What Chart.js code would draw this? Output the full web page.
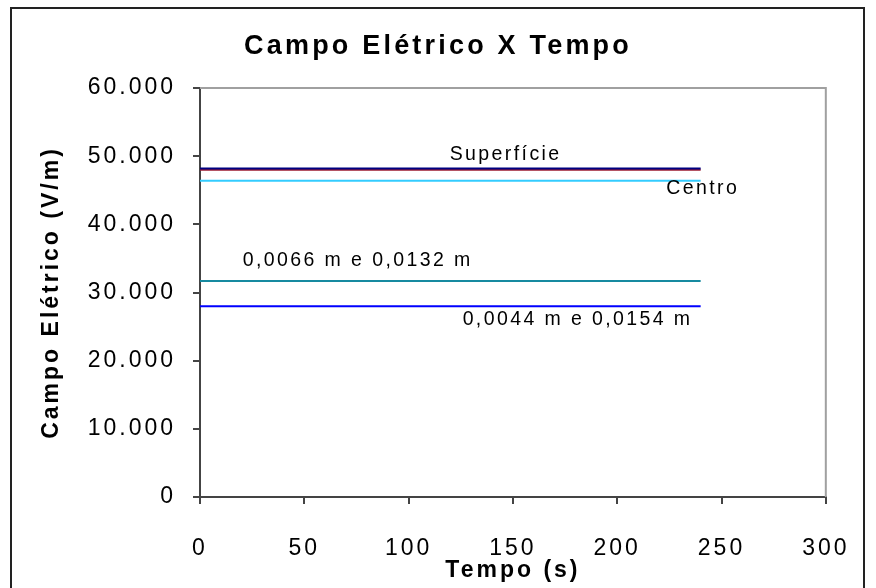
<!DOCTYPE html>
<html>
<head>
<meta charset="utf-8">
<script src="https://cdn.jsdelivr.net/npm/chart.js@4.4.1/dist/chart.umd.min.js"></script>
<style>
  html, body { margin: 0; padding: 0; background: #fff; }
  #wrap { width: 876px; height: 588px; }
</style>
</head>
<body>
<div id="wrap"><canvas id="grafico" width="876" height="588"></canvas></div>
<script>
// Tempo (s) e campo elétrico (V/m) por posição
const tempo = [0, 240];
const superficieA = [48200, 48200];
const superficieB = [48000, 48000];
const centro = [46400, 46400];
const pos0066 = [31700, 31700];
const pos0044 = [28000, 28000];

// Rótulos dentro do gráfico (coordenadas em unidades dos eixos)
const rotulos = ['Superfície', 'Centro', '0,0066 m e 0,0132 m', '0,0044 m e 0,0154 m'];
const rotuloTempo = [146.5, 241, 75.6, 181];
const rotuloCampo = [50230, 45210, 34650, 25980];

const FONTE = '"Liberation Sans", Arial, sans-serif';

function pontos(valores) {
    return tempo.map((t, i) => ({ x: t, y: valores[i] }));
}

function milhar(v) {
    return String(v).replace(/\B(?=(\d{3})+(?!\d))/g, '.');
}

const moldura = {
    id: 'moldura',
    beforeDraw(chart) {
        const ctx = chart.ctx;
        ctx.letterSpacing = '3px';
        ctx.save();
        ctx.fillStyle = '#fff';
        ctx.fillRect(0, 0, chart.width, chart.height);
        ctx.strokeStyle = '#222';
        ctx.lineWidth = 2;
        ctx.strokeRect(11, 8, 853, 600);
        ctx.restore();
    },
    afterDraw(chart) {
        const ctx = chart.ctx;
        const a = chart.chartArea;
        ctx.save();
        // bordas superior e direita da área do gráfico
        ctx.strokeStyle = '#a0a0a0';
        ctx.lineWidth = 2;
        ctx.beginPath();
        ctx.moveTo(a.left, a.top);
        ctx.lineTo(a.right, a.top);
        ctx.lineTo(a.right, a.bottom);
        ctx.stroke();

        // título
        ctx.fillStyle = '#000';
        ctx.letterSpacing = '3.2px';
        ctx.font = 'bold 27px ' + FONTE;
        ctx.textAlign = 'center';
        ctx.textBaseline = 'middle';
        ctx.fillText('Campo Elétrico X Tempo', 438, 47);

        // rótulos das curvas
        const sx = chart.scales.x, sy = chart.scales.y;
        ctx.letterSpacing = '2.4px';
        ctx.font = '19.5px ' + FONTE;
        rotulos.forEach((txt, i) => {
            ctx.fillText(txt, sx.getPixelForValue(rotuloTempo[i]), sy.getPixelForValue(rotuloCampo[i]));
        });
        ctx.restore();
    }
};

const serie = (label, valores, cor) => ({
    label: label,
    data: pontos(valores),
    borderColor: cor,
    borderWidth: 2,
    pointRadius: 0,
    fill: false,
    tension: 0
});

new Chart(document.getElementById('grafico'), {
    type: 'line',
    data: {
        datasets: [
            serie('Superfície', superficieA, '#000080'),
            serie('Superfície', superficieB, '#9b1b30'),
            serie('Centro', centro, '#33ccff'),
            serie('0,0066 m e 0,0132 m', pos0066, '#168aa0'),
            serie('0,0044 m e 0,0154 m', pos0044, '#0000ff')
        ]
    },
    options: {
        responsive: false,
        animation: false,
        layout: { padding: { left: 0, right: 33, top: 88, bottom: 0 } },
        plugins: {
            legend: { display: false },
            tooltip: { enabled: false }
        },
        scales: {
            x: {
                type: 'linear',
                min: 0,
                max: 300,
                afterFit: s => { s.height = 91; },
                ticks: {
                    stepSize: 50,
                    color: '#000',
                    padding: 31,
                    font: { family: FONTE, size: 23 }
                },
                grid: { drawOnChartArea: false, tickLength: 7, color: '#444', lineWidth: 2 },
                border: { color: '#444', width: 2 },
                title: {
                    display: true,
                    text: 'Tempo (s)',
                    color: '#000',
                    font: { family: FONTE, size: 23, weight: 'bold' },
                    padding: { top: 0, bottom: 4 }
                }
            },
            y: {
                min: 0,
                max: 60000,
                afterFit: s => { s.width = 200; },
                ticks: {
                    stepSize: 10000,
                    color: '#000',
                    padding: 17,
                    font: { family: FONTE, size: 23 },
                    callback: v => milhar(v)
                },
                grid: { drawOnChartArea: false, tickLength: 7, color: '#444', lineWidth: 2 },
                border: { color: '#444', width: 2 },
                title: {
                    display: true,
                    text: 'Campo Elétrico (V/m)',
                    color: '#000',
                    font: { family: FONTE, size: 23, weight: 'bold' },
                    padding: { top: 38, bottom: 0 }
                }
            }
        }
    },
    plugins: [moldura]
});
</script>
</body>
</html>
